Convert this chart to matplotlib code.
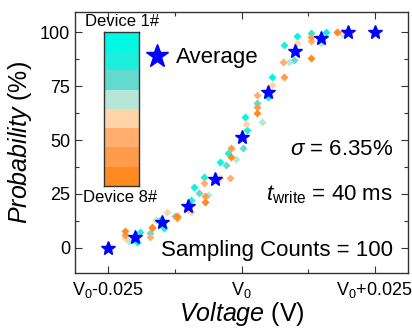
import numpy as np
import matplotlib
matplotlib.use("Agg")
import matplotlib.pyplot as plt
from matplotlib.colors import ListedColormap
from matplotlib.ticker import MultipleLocator

plt.rcParams['font.family'] = ['Liberation Sans', 'DejaVu Sans']
plt.rcParams['mathtext.fontset'] = 'custom'
plt.rcParams['mathtext.rm'] = 'Liberation Sans'
plt.rcParams['mathtext.it'] = 'Liberation Sans:italic'
plt.rcParams['mathtext.bf'] = 'Liberation Sans:bold'

# voltage offsets from V0 in mV, probability in %
avg_v = [-25, -20, -15, -10, -5, 0, 5, 10, 15, 20, 25]
avg_p = [0, 4.8, 11.8, 19.4, 31.9, 51.3, 72.5, 91.5, 97.5, 100, 100]

dev_colors = ['#00F7E3', '#1CEEDB', '#63D9CF', '#B5E6D7',
              '#FFD4A8', '#FFAE6E', '#FF9C4B', '#FF8A22']

dev1_v = [-19.6, -15.3, -9.0, -4.1, 0.7, 5.8, 10.5, 15.8]
dev1_p = [2.5, 12.9, 28.3, 40.0, 60.8, 79.4, 98.5, 100]
dev2_v = [-19.0, -14.6, -9.5, -7.1, -2.6, 1.0, 4.9, 8.0, 13.0]
dev2_p = [7.1, 9.0, 22.2, 33.0, 44.1, 54.7, 70.1, 94.1, 99.6]
dev3_v = [-17.2, -12.5, -8.0, -3.0, 0.2, 2.9, 9.9, 14.9]
dev3_p = [6.7, 14.5, 25.5, 38.5, 46.2, 67.0, 87.2, 96.5]
dev4_v = [-21.1, -16.0, -10.1, -6.2, -1.0, 3.9, 9.0, 14.9, 18.9]
dev4_p = [3.3, 12.9, 17.5, 24.5, 41.0, 58.2, 86.4, 94.9, 99.5]
dev5_v = [-21.8, -14.0, -9.5, -4.0, 0.9, 5.8, 10.5, 18.9]
dev5_p = [4.6, 16.7, 16.7, 32.2, 57.3, 75.6, 94.9, 100]
dev6_v = [-17.2, -12.1, -7.1, -2.1, 2.9, 7.7, 13.0, 18.0]
dev6_p = [5.1, 14.1, 30.2, 32.2, 70.9, 86.4, 96.0, 100]
dev7_v = [-21.8, -16.8, -12.1, -6.9, -1.9, 2.9, 8.0, 13.0]
dev7_p = [5.8, 9.1, 13.7, 24.0, 46.2, 65.2, 79.1, 98.0]
dev8_v = [-21.8, -16.8, -12.1, -6.9, -1.9, 2.9, 13.0, 18.0]
dev8_p = [7.8, 9.8, 14.8, 21.2, 42.3, 62.4, 88.2, 100]

devs_v = [dev1_v, dev2_v, dev3_v, dev4_v, dev5_v, dev6_v, dev7_v, dev8_v]
devs_p = [dev1_p, dev2_p, dev3_p, dev4_p, dev5_p, dev6_p, dev7_p, dev8_p]

xticks = [-25, 0, 25]
xticklabels = ['V$_0$-0.025', 'V$_0$', 'V$_0$+0.025']
yticks = [0, 25, 50, 75, 100]

fig = plt.figure(figsize=(4.12, 3.28), dpi=100)
ax = fig.add_axes([75/412, 1-273/328, 333/412, 261/328])

for v, p, c in zip(devs_v, devs_p, dev_colors):
    ax.plot(v, p, 'D', color=c, ms=4.2, mec='none', zorder=2)
ax.plot(avg_v, avg_p, '*', color='#0000FF', ms=10, mec='#0000FF', zorder=3,
        label='Average', ls='none')

ax.set_xlim(-31.25, 31.25)
ax.set_ylim(-11.8, 109.5)
ax.set_xticks(xticks)
ax.set_xticklabels(xticklabels)
ax.set_yticks(yticks)
ax.xaxis.set_minor_locator(MultipleLocator(12.5))
ax.yaxis.set_minor_locator(MultipleLocator(12.5))
ax.tick_params(which='both', direction='in', top=True, right=True,
               labelsize=13, color='#333333', width=0.8)
ax.tick_params(which='major', length=5)
ax.tick_params(which='minor', length=3)
ax.tick_params(axis='x', pad=5)
for s in ax.spines.values():
    s.set_color('#333333')
    s.set_linewidth(1.0)

ax.set_xlabel(r'$\mathit{Voltage}$ (V)', fontsize=18, labelpad=0)
ax.set_ylabel(r'$\mathit{Probability}$ (%)', fontsize=18, labelpad=4)

leg = ax.legend(loc='center left', bbox_to_anchor=(146/412, 1-58/328),
                bbox_transform=fig.transFigure, frameon=False, fontsize=16,
                markerscale=1.7, handlelength=1.0, handletextpad=0.35,
                borderpad=0, borderaxespad=0)

fig.text(393/412, 1-155/328, r'$\sigma$ = 6.35%', ha='right', va='baseline', fontsize=16)
fig.text(393/412, 1-200/328, r'$t_{\mathrm{write}}$ = 40 ms', ha='right', va='baseline', fontsize=16)
fig.text(393/412, 1-256/328, 'Sampling Counts = 100', ha='right', va='baseline', fontsize=16)

# device colour bar
cax = fig.add_axes([104/412, 1-186/328, 35/412, 154/328])
cax.imshow(np.arange(len(dev_colors)).reshape(-1, 1), cmap=ListedColormap(dev_colors),
           aspect='auto', interpolation='nearest')
cax.set_xticks([])
cax.set_yticks([])
for s in cax.spines.values():
    s.set_color('#333333')
    s.set_linewidth(1.0)
fig.text(122/412, 1-22/328, 'Device 1#', ha='center', va='center', fontsize=12)
fig.text(120/412, 1-197/328, 'Device 8#', ha='center', va='center', fontsize=12)

fig.savefig('out.png', dpi=100)
